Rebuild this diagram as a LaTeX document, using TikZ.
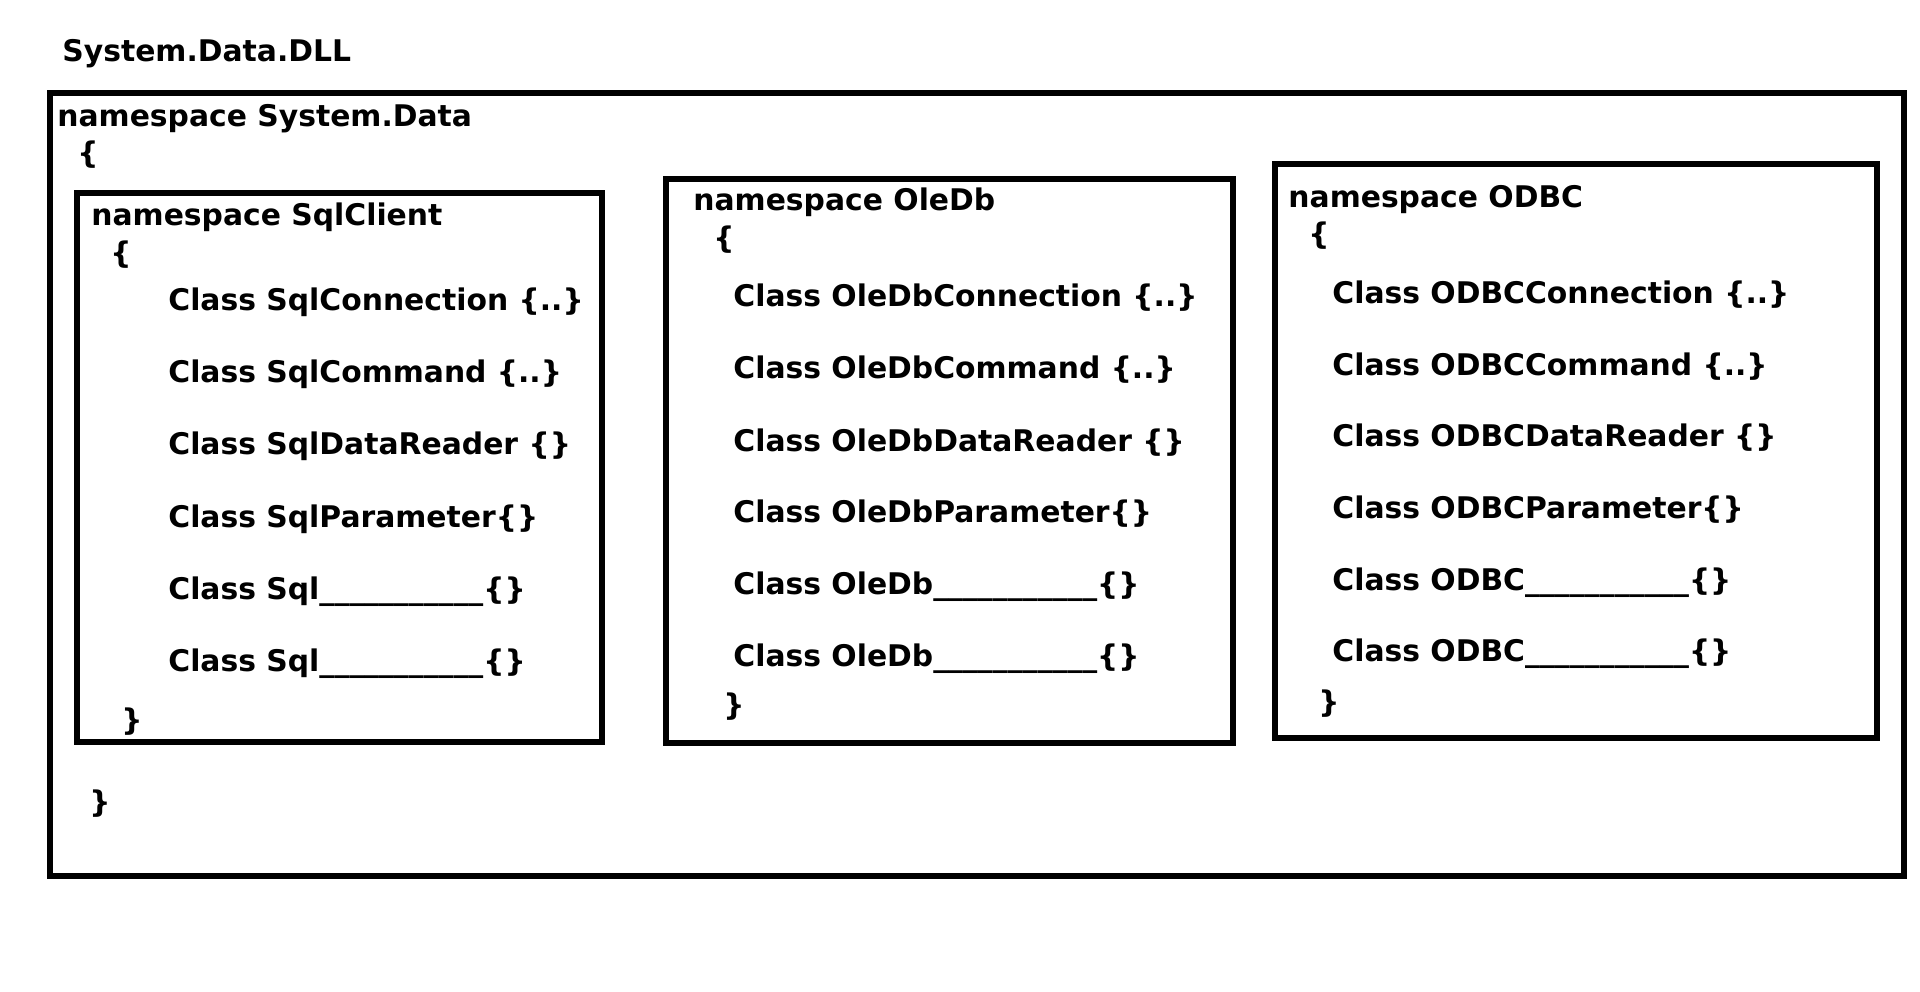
\documentclass[tikz,border=0pt]{standalone}
\usepackage{fontspec}
\setmainfont{DejaVu Sans}
\tikzset{
  txt/.style={anchor=base west, inner sep=0pt, font=\fontsize{14.9pt}{16pt}\selectfont\bfseries},
  box/.style={draw=black, line width=2.9pt},
}
\newcommand{\blankline}{\_\_\_\_\_\_\_\_\_\_\_}
\begin{document}
\begin{tikzpicture}[x=0.5pt,y=-0.5pt]
\useasboundingbox (0,0) rectangle (1920,991);
% outer box
\draw[box] (50,93) rectangle (1904,876);
\node[txt] (dll) at (62,61) {System.Data.DLL};
\node[txt] (nsd) at (57,126) {namespace System.Data};
\node[txt] (ob) at (77,163) {\{};
\node[txt] (cb) at (89,812) {\}};
% SqlClient
\draw[box] (77,193) rectangle (602,742);
\node[txt] (ns1) at (91,225) {namespace SqlClient};
\node[txt] (o1) at (110,263) {\{};
\node[txt] (s1) at (168,310) {Class SqlConnection \{..\}};
\node[txt] (s2) at (168,382) {Class SqlCommand \{..\}};
\node[txt] (s3) at (168,454) {Class SqlDataReader \{\}};
\node[txt] (s4) at (168,527) {Class SqlParameter\{\}};
\node[txt] (s5) at (168,599) {Class Sql\blankline\{\}};
\node[txt] (s6) at (168,671) {Class Sql\blankline\{\}};
\node[txt] (c1) at (121,730) {\}};
% OleDb
\draw[box] (666,179) rectangle (1233,743);
\node[txt] (ns2) at (693,210) {namespace OleDb};
\node[txt] (o2) at (713,248) {\{};
\node[txt] (d1) at (733,306) {Class OleDbConnection \{..\}};
\node[txt] (d2) at (733,378) {Class OleDbCommand \{..\}};
\node[txt] (d3) at (733,451) {Class OleDbDataReader \{\}};
\node[txt] (d4) at (733,522) {Class OleDbParameter\{\}};
\node[txt] (d5) at (733,594) {Class OleDb\blankline\{\}};
\node[txt] (d6) at (733,666) {Class OleDb\blankline\{\}};
\node[txt] (c2) at (723,715) {\}};
% ODBC
\draw[box] (1275,164) rectangle (1877,738);
\node[txt] (ns3) at (1288,207) {namespace ODBC};
\node[txt] (o3) at (1308,244) {\{};
\node[txt] (e1) at (1332,303) {Class ODBCConnection \{..\}};
\node[txt] (e2) at (1332,375) {Class ODBCCommand \{..\}};
\node[txt] (e3) at (1332,446) {Class ODBCDataReader \{\}};
\node[txt] (e4) at (1332,518) {Class ODBCParameter\{\}};
\node[txt] (e5) at (1332,590) {Class ODBC\blankline\{\}};
\node[txt] (e6) at (1332,661) {Class ODBC\blankline\{\}};
\node[txt] (c3) at (1318,712) {\}};
\end{tikzpicture}
\end{document}
